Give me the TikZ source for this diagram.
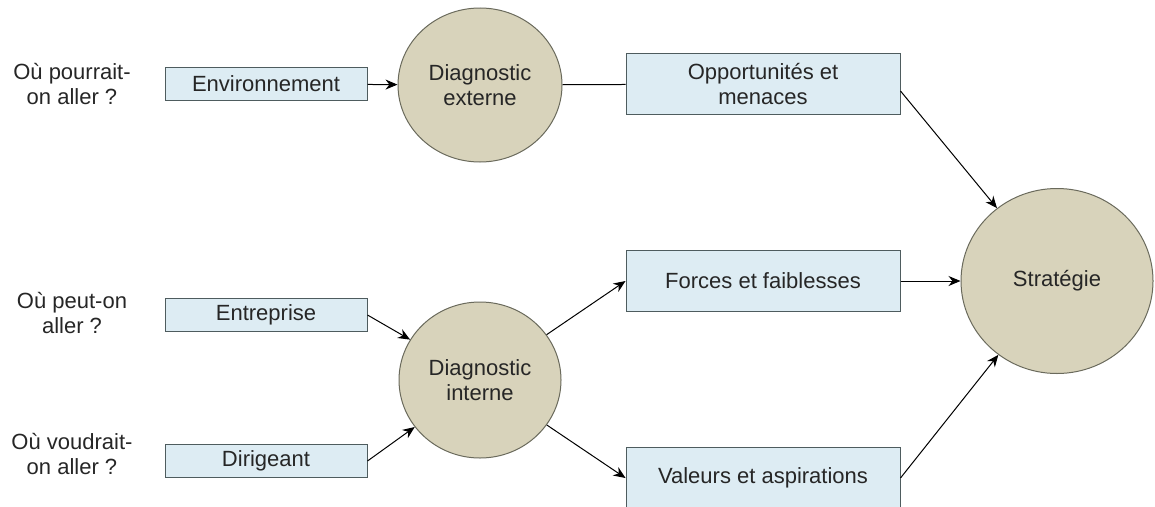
\documentclass[tikz,border=0pt]{standalone}
\usepackage{fontspec}
\setmainfont{Liberation Sans}
\usetikzlibrary{shapes.geometric,arrows.meta}
\definecolor{boxblue}{HTML}{DDECF3}
\definecolor{boxline}{HTML}{4E5C5E}
\definecolor{diagtan}{HTML}{D8D3BB}
\definecolor{diagline}{HTML}{6A6A5C}
\definecolor{txtgray}{HTML}{262626}
\tikzset{
  smallbox/.style={rectangle,draw=boxline,fill=boxblue,minimum width=202pt,minimum height=33pt},
  bigbox/.style={rectangle,draw=boxline,fill=boxblue,minimum width=274pt,minimum height=61pt},
  diag/.style={ellipse,draw=diagline,fill=diagtan,inner sep=0pt},
  arr/.style={-{Stealth[length=12pt,width=10pt]}}
}
\begin{document}
\begin{tikzpicture}[x=1pt,y=-1pt,line width=1pt]
  \useasboundingbox (0,0) rectangle (1155,506);
  \clip (0,0) rectangle (1155,506);
  \begin{scope}[every node/.style={font=\fontsize{22}{25.5}\selectfont,align=center,text=txtgray}]
    % questions
    \node (q1) at (72,84)  {Où pourrait-\\on aller ?};
    \node (q2) at (72,313) {Où peut-on\\aller ?};
    \node (q3) at (72,454) {Où voudrait-\\on aller ?};
    % sources
    \node[smallbox] (env) at (266,84)  {Environnement};
    \node[smallbox] (ent) at (266,315) {Entreprise};
    \node[smallbox] (dir) at (266,461) {Dirigeant};
    % diagnostics
    \node[diag,minimum width=164pt,minimum height=154pt] (dext) at (480,85)  {Diagnostic\\externe};
    \node[diag,minimum width=162pt,minimum height=156pt] (dint) at (480,380) {Diagnostic\\interne};
    % results
    \node[bigbox] (opp)  at (763,84)  {Opportunités et\\menaces};
    \node[bigbox] (forc) at (763,281) {Forces et faiblesses};
    \node[bigbox] (val)  at (763,478) {Valeurs et aspirations};
    \node[diag,minimum width=192pt,minimum height=185pt] (strat) at (1057,281) {Stratégie};
  \end{scope}
  \draw[arr] (env) -- (dext);
  \draw (dext) -- (opp);
  \draw[arr] (ent.east) -- (dint);
  \draw[arr] (dir.east) -- (dint);
  \draw[arr] (dint) -- (forc.west);
  \draw[arr] (dint) -- (val.west);
  \draw[arr] ([yshift=-7pt]opp.east) -- (strat);
  \draw[arr] (forc) -- (strat);
  \draw[arr] (val.east) -- (strat);
\end{tikzpicture}
\end{document}
